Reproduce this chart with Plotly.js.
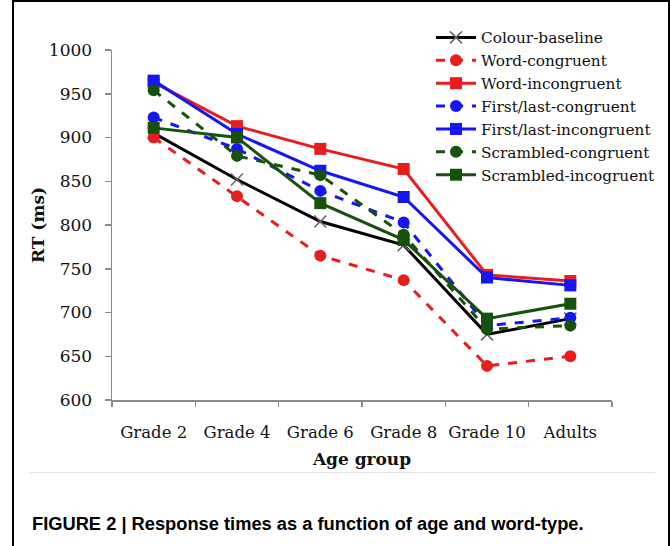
<!DOCTYPE html>
<html>
<head>
<meta charset="utf-8">
<script src="https://cdn.plot.ly/plotly-3.0.1.min.js"></script>
<style>
  html, body { margin: 0; padding: 0; background: #fff; }
  #wrap { position: relative; width: 671px; height: 546px; overflow: hidden; }
  #chart { position: absolute; left: 0; top: 0; width: 671px; height: 546px; }
  #frame { position: absolute; left: 12px; top: 0px; width: 654px; height: 600px;
           border: 2px solid #000; pointer-events: none; }
  #sep { position: absolute; left: 30px; top: 472px; width: 625px; height: 0;
         border-top: 1px solid #e4e4e4; pointer-events: none; }
</style>
</head>
<body>
<div id="wrap">
  <div id="chart"></div>
  <div id="sep"></div>
  <div id="frame"></div>
</div>
<script>
const categories = ["Grade 2", "Grade 4", "Grade 6", "Grade 8", "Grade 10", "Adults"];
const seriesNames = ["Colour-baseline", "Word-congruent", "Word-incongruent",
  "First/last-congruent", "First/last-incongruent", "Scrambled-congruent", "Scrambled-incogruent"];
const colourBaseline       = [905, 852, 804, 777, 675, 693];
const wordCongruent        = [900, 833, 765, 737, 639, 650];
const wordIncongruent      = [963, 913, 887, 864, 743, 736];
const firstLastCongruent   = [923, 887, 839, 803, 685, 694];
const firstLastIncongruent = [965, 904, 862, 832, 740, 731];
const scrambledCongruent   = [954, 879, 857, 789, 681, 685];
const scrambledIncongruent = [911, 900, 825, 783, 693, 710];
const yTicks = [600, 650, 700, 750, 800, 850, 900, 950, 1000];

const RED = "rgb(232,30,30)", BLUE = "rgb(22,22,245)", GREEN = "rgb(22,82,12)", BLACK = "#000";

const values = [colourBaseline, wordCongruent, wordIncongruent, firstLastCongruent,
  firstLastIncongruent, scrambledCongruent, scrambledIncongruent];
const styles = [
  {color: BLACK, dash: "solid", symbol: "x-thin", mcolor: "rgb(100,100,100)", size: 12},
  {color: RED,   dash: "dash",  symbol: "circle", size: 12},
  {color: RED,   dash: "solid", symbol: "square", size: 12},
  {color: BLUE,  dash: "dash",  symbol: "circle", size: 12},
  {color: BLUE,  dash: "solid", symbol: "square", size: 12},
  {color: GREEN, dash: "dash",  symbol: "circle", size: 12},
  {color: GREEN, dash: "solid", symbol: "square", size: 12}
];

const traces = values.map((v, i) => {
  const s = styles[i];
  const marker = {symbol: s.symbol, size: s.size, color: s.mcolor || s.color};
  if (s.symbol === "x-thin") marker.line = {color: s.mcolor, width: 1.5};
  return {
    type: "scatter", mode: "lines+markers", name: seriesNames[i],
    x: categories, y: v,
    line: {color: s.color, width: 3, dash: s.dash},
    marker: marker
  };
});

const SERIF = "DejaVu Serif, Liberation Serif, serif";
const layout = {
  width: 671, height: 546,
  margin: {l: 112, r: 59, t: 50, b: 146, autoexpand: false},
  paper_bgcolor: "#fff", plot_bgcolor: "#fff",
  font: {family: SERIF, color: "#111", size: 16.5},
  showlegend: true,
  legend: {
    x: 0.638, y: 1.083, xanchor: "left", yanchor: "top",
    font: {family: SERIF, size: 15.3, color: "#111"},
    bgcolor: "rgba(0,0,0,0)", itemwidth: 40, tracegroupgap: 0
  },
  xaxis: {
    type: "category", range: [-0.5, 5.5], automargin: false,
    showline: true, linecolor: "#8a8a8a", linewidth: 1.5,
    ticks: "outside", ticklen: 5, tickcolor: "#8a8a8a", tickwidth: 1.5,
    tickson: "boundaries", showgrid: false, zeroline: false, tickangle: 0,
    tickfont: {family: SERIF, size: 16.5, color: "#111"},
    ticklabelstandoff: 17,
    title: {text: "<b>Age group</b>", font: {family: SERIF, size: 17, color: "#111"}, standoff: 12}
  },
  yaxis: {
    range: [600, 1000], tickvals: yTicks, ticktext: yTicks.map(String), automargin: false,
    showline: true, linecolor: "#8a8a8a", linewidth: 1.5,
    ticks: "outside", ticklen: 6, tickcolor: "#8a8a8a", tickwidth: 1.5,
    showgrid: false, zeroline: false,
    tickfont: {family: SERIF, size: 17, color: "#111"},
    ticklabelstandoff: 9,
    title: {text: "<b>RT (ms)</b>", font: {family: SERIF, size: 17, color: "#111"}, standoff: 0}
  },
  annotations: [{
    text: "<b>FIGURE 2 | Response times as a function of age and word-type.</b>",
    xref: "paper", yref: "paper", x: -0.164, y: -0.354,
    xanchor: "left", yanchor: "middle", showarrow: false,
    font: {family: "Liberation Sans Narrow, Liberation Sans, Arial, sans-serif", size: 18.3, color: "#000"}
  }]
};

Plotly.newPlot("chart", traces, layout, {displayModeBar: false, staticPlot: true});
</script>
</body>
</html>
